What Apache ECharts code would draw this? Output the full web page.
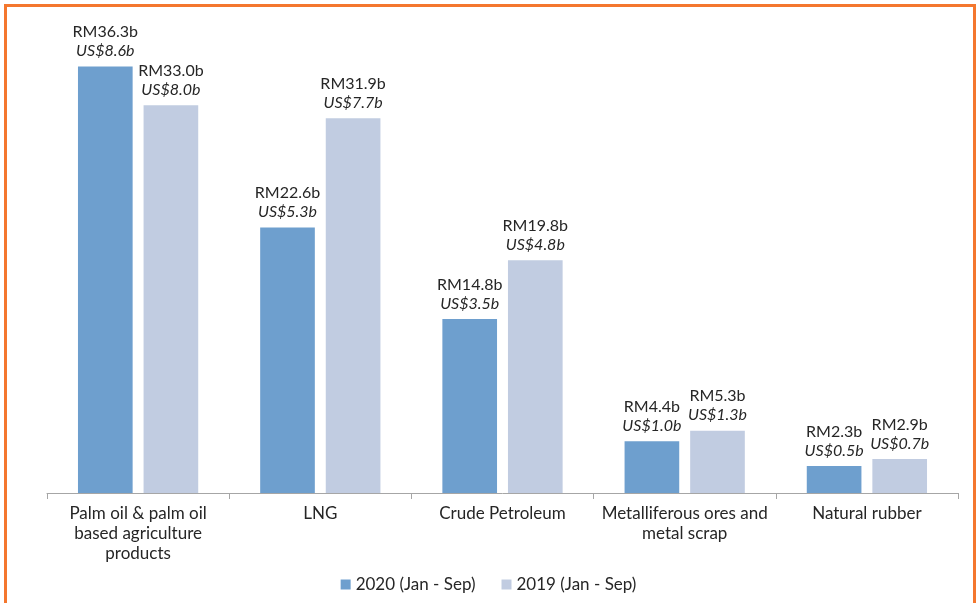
<!DOCTYPE html>
<html><head><meta charset="utf-8">
<script src="https://cdn.jsdelivr.net/npm/echarts@6/dist/echarts.min.js"></script>
<style>
html,body{margin:0;padding:0;background:#fff;overflow:hidden;}
#frame{position:absolute;left:4px;top:4px;width:966px;height:640px;border:3px solid #F4772E;box-sizing:content-box;}
#chart{position:absolute;left:0;top:0;width:977px;height:603px;}
</style></head>
<body>
<div id="frame"></div>
<div id="chart"></div>
<script>
const categories = ['Palm oil & palm oil\nbased agriculture\nproducts', 'LNG', 'Crude Petroleum', 'Metalliferous ores and\nmetal scrap', 'Natural rubber'];
const rm2020 = [36.3, 22.6, 14.8, 4.4, 2.3];
const rm2019 = [33.0, 31.9, 19.8, 5.3, 2.9];
const us2020 = [8.6, 5.3, 3.5, 1.0, 0.5];
const us2019 = [8.0, 7.7, 4.8, 1.3, 0.7];
const seriesNames = ['2020 (Jan - Sep)', '2019 (Jan - Sep)'];

const FONT = 'Lato';
function makeLabel(usArr) {
  return {
    show: true, position: 'top', distance: 6,
    formatter: p => '{a|RM' + p.value.toFixed(1) + 'b}\n{b|US$' + usArr[p.dataIndex].toFixed(1) + 'b}',
    rich: {
      a: {fontFamily: FONT, fontSize: 16, color: '#262626', lineHeight: 19},
      b: {fontFamily: FONT, fontSize: 16, color: '#262626', fontStyle: 'italic', lineHeight: 19}
    }
  };
}
const chart = echarts.init(document.getElementById('chart'));
chart.setOption({
  animation: false,
  grid: {left: 47, right: 19, top: 23, bottom: 110},
  legend: {
    bottom: 5, left: 'center', itemWidth: 10, itemHeight: 10, itemGap: 26,
    icon: 'rect',
    textStyle: {fontFamily: FONT, fontSize: 17, color: '#262626'},
    data: seriesNames
  },
  xAxis: {
    type: 'category', data: categories,
    axisLine: {lineStyle: {color: '#A6A6A6'}},
    axisTick: {show: true, length: 6, lineStyle: {color: '#A6A6A6'}},
    axisLabel: {fontFamily: FONT, fontSize: 17, color: '#262626', lineHeight: 20, margin: 11, interval: 0}
  },
  yAxis: {type: 'value', min: 0, max: 40, show: false, splitLine: {show: false}},
  series: [
    {name: seriesNames[0], type: 'bar', data: rm2020, barWidth: '30%', barGap: '20%',
     itemStyle: {color: '#6E9FCE'}, label: makeLabel(us2020)},
    {name: seriesNames[1], type: 'bar', data: rm2019, barWidth: '30%', barGap: '20%',
     itemStyle: {color: '#C1CCE1'}, label: makeLabel(us2019)}
  ]
});
</script>
</body></html>
